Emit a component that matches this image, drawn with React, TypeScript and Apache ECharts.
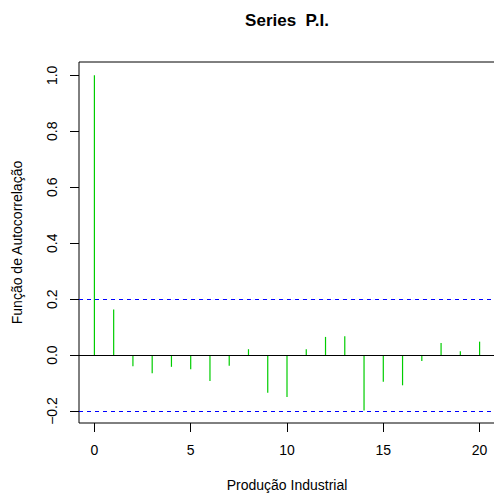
import React, { useEffect, useRef } from "react";
import * as echarts from "echarts";

const lags = [0, 1, 2, 3, 4, 5, 6, 7, 8, 9, 10, 11, 12, 13, 14, 15, 16, 17, 18, 19, 20];
const acfValues = [1.0, 0.163, -0.04, -0.065, -0.042, -0.051, -0.093, -0.038, 0.021, -0.135, -0.15, 0.021, 0.065, 0.067, -0.198, -0.095, -0.108, -0.021, 0.043, 0.014, 0.048];
const ciBound = 0.195;
const xTicks = [0, 5, 10, 15, 20];
const yTicks = [-0.2, 0.0, 0.2, 0.4, 0.6, 0.8, 1.0];
const titleText = "Series  P.I.";
const xName = "Produção Industrial";
const yName = "Função de Autocorrelação";

const FONT = "'Liberation Sans', Arial, Helvetica, sans-serif";

export default function App() {
  const ref = useRef<HTMLDivElement>(null);
  useEffect(() => {
    if (!ref.current) return;
    const chart = echarts.init(ref.current, null, { renderer: "svg" });
    const xMin = -0.8, xMax = 20.8;
    const yMin = -0.2428, yMax = 1.0478;
    const fmtY = (v: number) => (v < 0 ? "\u2212" : "") + Math.abs(v).toFixed(1);
    chart.setOption({
      animation: false,
      backgroundColor: "#ffffff",
      textStyle: { fontFamily: FONT },
      grid: {
        left: 79,
        top: 62,
        width: 416,
        height: 361,
        show: true,
        borderColor: "#000",
        borderWidth: 1,
        backgroundColor: "transparent",
        containLabel: false,
        outerBoundsMode: "none",
      },
      xAxis: {
        type: "value",
        min: xMin,
        max: xMax,
        axisLine: { show: false, onZero: false },
        splitLine: { show: false },
        axisTick: { show: true, inside: false, length: 9, lineStyle: { color: "#000" }, customValues: xTicks },
        axisLabel: { show: true, margin: 20, color: "#000", fontSize: 14, fontFamily: FONT, customValues: xTicks, formatter: (v: number) => String(v) },
        name: xName,
        nameLocation: "middle",
        nameGap: 55,
        nameTextStyle: { color: "#000", fontSize: 14, fontFamily: FONT },
      },
      yAxis: {
        type: "value",
        min: yMin,
        max: yMax,
        axisLine: { show: false, onZero: false },
        splitLine: { show: false },
        axisTick: { show: true, inside: false, length: 9, lineStyle: { color: "#000" }, customValues: yTicks },
        axisLabel: { show: true, rotate: 90, margin: 20, color: "#000", fontSize: 14, fontFamily: FONT, customValues: yTicks, formatter: fmtY },
        name: yName,
        nameLocation: "middle",
        nameRotate: 90,
        nameGap: 55,
        nameTextStyle: { color: "#000", fontSize: 14, fontFamily: FONT },
      },
      graphic: [
        {
          type: "text",
          x: 287,
          y: 20,
          style: {
            text: titleText,
            fill: "#000",
            font: `bold 17px ${FONT}`,
            textAlign: "center",
            textVerticalAlign: "middle",
          },
        },
      ],
      series: [
        {
          type: "custom",
          data: lags.map((l, i) => [l, acfValues[i]]),
          renderItem: (params: any, api: any) => {
            const x = api.value(0);
            const y = api.value(1);
            const p0 = api.coord([x, 0]);
            const p1 = api.coord([x, y]);
            return {
              type: "line",
              shape: { x1: p0[0], y1: p0[1], x2: p1[0], y2: p1[1] },
              style: { stroke: "#00CD00", lineWidth: 1.2 },
            };
          },
          silent: true,
          z: 3,
        },
        {
          type: "line",
          data: [],
          silent: true,
          z: 2,
          markLine: {
            silent: true,
            symbol: "none",
            label: { show: false },
            lineStyle: { color: "#0000FF", type: [4, 4], width: 1 },
            data: [
              { yAxis: 0, lineStyle: { color: "#000", type: "solid", width: 1 } },
              { yAxis: ciBound, lineStyle: { color: "#0000FF", type: [4, 4], width: 1 } },
              { yAxis: -ciBound, lineStyle: { color: "#0000FF", type: [4, 4], width: 1 } },
            ],
          },
        },
      ],
    });
    return () => chart.dispose();
  }, []);
  return (
    <div
      ref={ref}
      style={{ position: "fixed", left: 0, top: 0, width: 494, height: 493, background: "#fff" }}
    />
  );
}
